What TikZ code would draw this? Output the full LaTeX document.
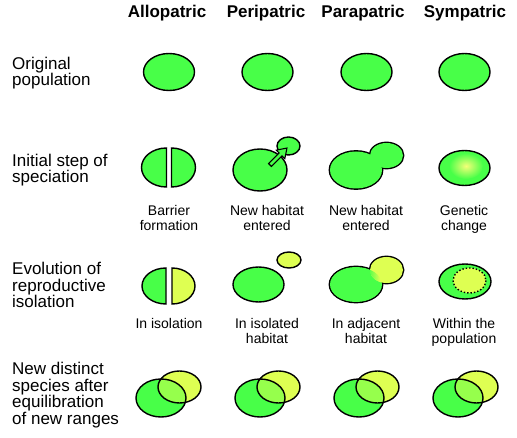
\documentclass[tikz,border=0pt]{standalone}
\usepackage{fontspec}
\setmainfont{Liberation Sans}
\definecolor{pg}{RGB}{72,255,72}
\definecolor{py}{RGB}{222,255,82}
\definecolor{pm}{RGB}{150,255,76}
\definecolor{ps}{RGB}{245,255,120}
\tikzset{
  head/.style={font=\fontsize{17}{19}\selectfont\bfseries, inner sep=0pt},
  rowlbl/.style={font=\fontsize{17}{16.5}\selectfont, align=left, anchor=west, inner sep=0pt},
  capt/.style={font=\fontsize{14}{15}\selectfont, align=center, anchor=north, inner sep=0pt},
  pop/.style={fill=pg, draw=black, line width=1.4pt},
  popy/.style={fill=py, draw=black, line width=1.4pt},
  outl/.style={draw=black, line width=1.4pt},
}
\begin{document}
\begin{tikzpicture}[x=1pt,y=-1pt]
\useasboundingbox (0,0) rectangle (517,438);
% headers
\node[head] (h1) at (167,13) {Allopatric};
\node[head] (h2) at (266,13) {Peripatric};
\node[head] (h3) at (363,13) {Parapatric};
\node[head] (h4) at (465,13) {Sympatric};
% row labels
\node[rowlbl] (r1) at (12,73) {Original\\population};
\node[rowlbl] (r2) at (12,170) {Initial step of\\speciation};
\node[rowlbl] (r3) at (12,285) {Evolution of\\reproductive\\isolation};
\node[rowlbl] (r4) at (12,395) {New distinct\\species after\\equilibration\\of new ranges};
% row 1
\foreach \cx in {169,267.5,366.5,464.5}
  \draw[pop] (\cx,72) ellipse[x radius=25.5, y radius=18.5];
% row 2 allopatric
\draw[pop] (166.5,148) arc[start angle=270, end angle=90, x radius=25, y radius=19.5] -- cycle;
\draw[pop] (171.5,148) arc[start angle=-90, end angle=90, x radius=24, y radius=19.5] -- cycle;
% row 2 peripatric
\draw[pop] (260,170) ellipse[x radius=27, y radius=21];
\draw[pop] (288.5,146) ellipse[x radius=11.5, y radius=9];
\begin{scope}[shift={(270,165)}, rotate=45]
  \draw[fill=pg, draw=black, line width=1.1pt, line join=miter]
    (0,-2) -- (15,-2) -- (15,-6) -- (24,0) -- (15,6) -- (15,2) -- (0,2) -- cycle;
\end{scope}
% row 2 parapatric
\draw[black, line width=2.8pt] (356,170) ellipse[x radius=26, y radius=18.5];
\draw[black, line width=2.8pt] (386.5,155.5) ellipse[x radius=16.5, y radius=12.5];
\fill[pg] (356,170) ellipse[x radius=26, y radius=18.5];
\fill[pg] (386.5,155.5) ellipse[x radius=16.5, y radius=12.5];
% row 2 sympatric
\fill[pg] (464.5,168) ellipse[x radius=25.5, y radius=17.5];
\begin{scope}
  \clip (464.5,168) ellipse[x radius=25.5, y radius=17.5];
  \shade[inner color=ps, outer color=pg] (466,166) ellipse[x radius=17, y radius=13];
\end{scope}
\draw[outl] (464.5,168) ellipse[x radius=25.5, y radius=17.5];
% row 2 captions
\node[capt] (c21) at (169,205) {Barrier\\formation};
\node[capt] (c22) at (267,205) {New habitat\\entered};
\node[capt] (c23) at (366,205) {New habitat\\entered};
\node[capt] (c24) at (464,205) {Genetic\\change};
% row 3 allopatric
\draw[pop] (166,268) arc[start angle=270, end angle=90, x radius=24, y radius=18] -- cycle;
\draw[popy] (172,268) arc[start angle=-90, end angle=90, x radius=23, y radius=18] -- cycle;
% row 3 peripatric
\draw[pop] (258.5,284.5) ellipse[x radius=25.5, y radius=17.5];
\draw[popy] (289,260) ellipse[x radius=12, y radius=8];
% row 3 parapatric
\draw[black, line width=2.8pt] (356,284.5) ellipse[x radius=26, y radius=17.5];
\draw[black, line width=2.8pt] (386.5,270) ellipse[x radius=16.5, y radius=13];
\fill[pg] (356,284.5) ellipse[x radius=26, y radius=17.5];
\fill[py] (386.5,270) ellipse[x radius=16.5, y radius=13];
\begin{scope}
  \clip (386.5,270) ellipse[x radius=16.5, y radius=13];
  \clip (356,284.5) ellipse[x radius=26, y radius=17.5];
  \shade[left color=pg, right color=py] (368,250) rectangle (380,300);
  \fill[py] (380,250) rectangle (405,300);
\end{scope}
% row 3 sympatric
\draw[pop] (465,281.5) ellipse[x radius=26, y radius=17.5];
\draw[fill=py, draw=black, line width=1.4pt, dotted] (469.5,280.5) ellipse[x radius=16.5, y radius=12.5];
% row 3 captions
\node[capt] (c31) at (169,318) {In isolation};
\node[capt] (c32) at (267,318) {In isolated\\habitat};
\node[capt] (c33) at (366,318) {In adjacent\\habitat};
\node[capt] (c34) at (464,318) {Within the\\population};
% row 4
\foreach \cx in {169,268,367,466} {
  \fill[py] ({\cx+10.5},387) ellipse[x radius=21.5, y radius=16];
  \fill[pg] ({\cx-8},398) ellipse[x radius=25, y radius=19];
  \begin{scope}
    \clip ({\cx-8},398) ellipse[x radius=25, y radius=19];
    \fill[pm] ({\cx+10.5},387) ellipse[x radius=21.5, y radius=16];
  \end{scope}
  \draw[outl] ({\cx-8},398) ellipse[x radius=25, y radius=19];
  \draw[outl] ({\cx+10.5},387) ellipse[x radius=21.5, y radius=16];
}
\end{tikzpicture}
\end{document}
